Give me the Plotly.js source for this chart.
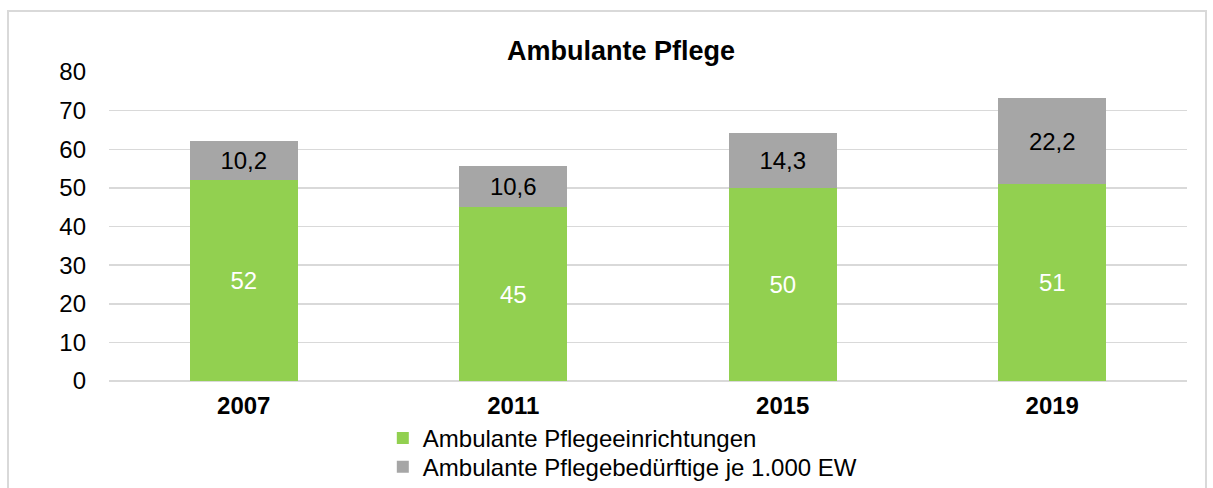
<!DOCTYPE html>
<html>
<head>
<meta charset="utf-8">
<script src="https://cdn.plot.ly/plotly-3.0.1.min.js"></script>
<style>
html,body{margin:0;padding:0;background:#fff;}
#wrap{position:relative;width:1213px;height:488px;overflow:hidden;}
#chart{width:1213px;height:488px;}
#frame{position:absolute;left:7px;top:10px;width:1196px;height:500px;border:2px solid #d9d9d9;pointer-events:none;}
</style>
</head>
<body>
<div id="wrap"><div id="chart"></div><div id="frame"></div></div>
<script>
const years = ['2007', '2011', '2015', '2019'];
const einrichtungen = [52, 45, 50, 51];
const beduerftige = [10.2, 10.6, 14.3, 22.2];
const seriesNames = ['Ambulante Pflegeeinrichtungen', 'Ambulante Pflegebedürftige je 1.000 EW'];
const yTicks = [0, 10, 20, 30, 40, 50, 60, 70, 80];

const fmt = v => String(v).replace('.', ',');
const font = 'Liberation Sans, Arial, sans-serif';
const fs = 24;

const traces = [
  {
    type: 'bar', x: years, y: einrichtungen, name: seriesNames[0], legend: 'legend',
    marker: {color: '#92d050'},
    text: einrichtungen.map(fmt), textposition: 'inside', insidetextanchor: 'middle',
    textfont: {color: '#ffffff', size: fs, family: font}, constraintext: 'none',
    hoverinfo: 'none'
  },
  {
    type: 'bar', x: years, y: beduerftige, name: seriesNames[1], legend: 'legend2',
    marker: {color: '#a6a6a6'},
    text: beduerftige.map(fmt), textposition: 'inside', insidetextanchor: 'middle',
    textfont: {color: '#000000', size: fs, family: font}, constraintext: 'none',
    hoverinfo: 'none'
  }
];

const legendBase = {orientation: 'v', x: 0.254, xanchor: 'left', yref: 'container', yanchor: 'top',
  font: {family: font, size: fs, color: '#000'}, itemwidth: 30, bgcolor: 'rgba(0,0,0,0)'};

const layout = {
  width: 1213, height: 488,
  margin: {l: 109, r: 26, t: 72, b: 107, autoexpand: false},
  paper_bgcolor: 'rgba(0,0,0,0)', plot_bgcolor: '#fff',
  barmode: 'stack', bargap: 0.6,
  font: {family: font, size: fs, color: '#000'},
  title: {text: '<b>Ambulante Pflege</b>', font: {family: font, size: 27, color: '#000'}, x: 0.512, xanchor: 'center', y: 0.897, yanchor: 'middle'},
  xaxis: {type: 'category', showgrid: false, showline: false, zeroline: false, ticks: '',
          tickfont: {family: font, size: fs, color: '#000', weight: 'bold'}, ticklabelstandoff: 8},
  yaxis: {range: [0, 80], tickvals: yTicks, showgrid: true, gridcolor: '#d9d9d9', gridwidth: 1.5,
          zeroline: true, zerolinecolor: '#d9d9d9', zerolinewidth: 1.5, showline: false, ticks: '',
          tickfont: {family: font, size: fs, color: '#000'}, ticklabelstandoff: 22},
  showlegend: true,
  legend: Object.assign({}, legendBase, {y: 0.148}),
  legend2: Object.assign({}, legendBase, {y: 0.089})
};

Plotly.newPlot('chart', traces, layout, {staticPlot: true, displayModeBar: false});
</script>
</body>
</html>
